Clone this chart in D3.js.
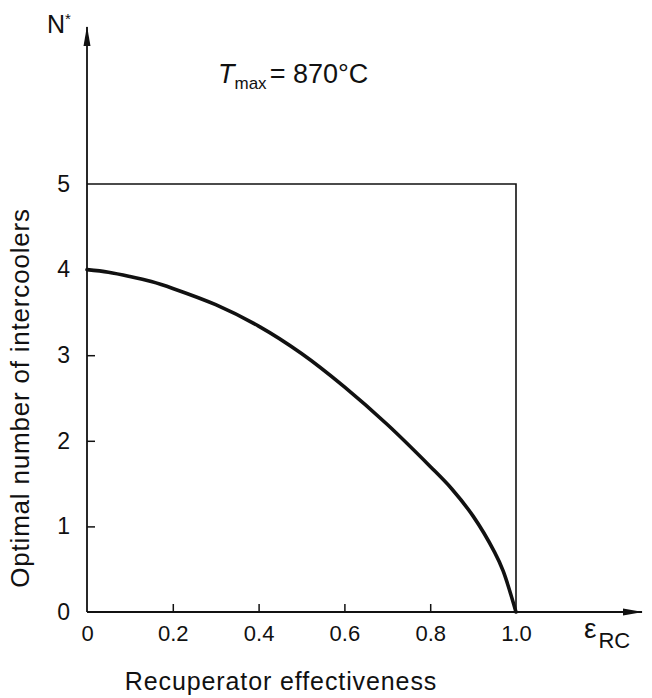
<!DOCTYPE html>
<html lang="en">
<head>
<meta charset="UTF-8"/>
<title>Optimal number of intercoolers</title>
<script src="https://d3js.org/d3.v7.min.js"></script>
<style>
  body { margin: 0; background: #fff; }
  text { font-family: "Liberation Sans", Arial, sans-serif; fill: #111; }
</style>
</head>
<body>
<script>
    // canvas size
    var w = 652;
    var h = 698;

    // curve: recuperator effectiveness vs optimal N*
    var effectiveness = [0, 0.05, 0.1, 0.15, 0.2, 0.3, 0.4, 0.5, 0.6, 0.7, 0.8, 0.85, 0.9, 0.95, 0.97, 1.0];
    var intercoolers  = [4.0, 3.97, 3.92, 3.86, 3.78, 3.59, 3.34, 3.02, 2.63, 2.19, 1.70, 1.44, 1.12, 0.70, 0.48, 0];

    var xTicks = [0, 0.2, 0.4, 0.6, 0.8, 1.0];
    var xTickLabels = ["0", "0.2", "0.4", "0.6", "0.8", "1.0"];
    var yTicks = [0, 1, 2, 3, 4, 5];

    var data = effectiveness.map(function(e, i) { return [e, intercoolers[i]]; });

    var xScale = d3.scaleLinear().domain([0, 1]).range([87, 516]);
    var yScale = d3.scaleLinear().domain([0, 5]).range([612, 184]);

    var svg = d3.select("body").append("svg")
        .attr("width", w)
        .attr("height", h);

    // x axis (ticks point inwards)
    var xAxis = d3.axisBottom(xScale)
        .tickValues(xTicks)
        .tickFormat(function(d, i) { return xTickLabels[i]; })
        .tickSizeInner(-8)
        .tickSizeOuter(0)
        .tickPadding(13);

    var gx = svg.append("g")
        .attr("transform", "translate(0," + yScale(0) + ")")
        .call(xAxis);
    gx.select(".domain").remove();
    gx.selectAll(".tick line").attr("stroke", "#111").attr("stroke-width", 1.5);
    gx.selectAll(".tick text").attr("font-size", "22px").style("font-family", "Liberation Sans, Arial, sans-serif").attr("fill", "#111");
    gx.selectAll(".tick").filter(function(d) { return d === 0 || d === 1; }).select("line").remove();

    // y axis
    var yAxis = d3.axisLeft(yScale)
        .tickValues(yTicks)
        .tickFormat(d3.format("d"))
        .tickSizeInner(-8)
        .tickSizeOuter(0)
        .tickPadding(17);

    var gy = svg.append("g")
        .attr("transform", "translate(" + xScale(0) + ",0)")
        .call(yAxis);
    gy.select(".domain").remove();
    gy.selectAll(".tick line").attr("stroke", "#111").attr("stroke-width", 1.5);
    gy.selectAll(".tick text").attr("font-size", "23px").style("font-family", "Liberation Sans, Arial, sans-serif").attr("fill", "#111");
    gy.selectAll(".tick").filter(function(d) { return d === 0 || d === 5; }).select("line").remove();

    // arrowheads
    var defs = svg.append("defs");
    defs.append("marker")
        .attr("id", "arrow")
        .attr("viewBox", "0 0 20 8")
        .attr("refX", 19).attr("refY", 4)
        .attr("markerWidth", 20).attr("markerHeight", 8)
        .attr("markerUnits", "userSpaceOnUse")
        .attr("orient", "auto")
        .append("path")
        .attr("d", "M0,0.5 L20,4 L0,7.5 Z")
        .attr("fill", "#111");

    // x axis line with arrow
    svg.append("line")
        .attr("x1", xScale(0)).attr("y1", yScale(0))
        .attr("x2", 642).attr("y2", yScale(0))
        .attr("stroke", "#111").attr("stroke-width", 1.8)
        .attr("marker-end", "url(#arrow)");

    // y axis line with arrow
    svg.append("line")
        .attr("x1", xScale(0)).attr("y1", yScale(0))
        .attr("x2", xScale(0)).attr("y2", 27)
        .attr("stroke", "#111").attr("stroke-width", 1.8)
        .attr("marker-end", "url(#arrow)");

    // box at N* = 5 and eps = 1.0
    svg.append("path")
        .attr("d", "M" + xScale(0) + "," + yScale(5) +
                   " L" + xScale(1) + "," + yScale(5) +
                   " L" + xScale(1) + "," + yScale(0))
        .attr("fill", "none")
        .attr("stroke", "#111")
        .attr("stroke-width", 1.6);

    // the curve
    var line = d3.line()
        .x(function(d) { return xScale(d[0]); })
        .y(function(d) { return yScale(d[1]); })
        .curve(d3.curveCatmullRom.alpha(0.5));

    svg.append("path")
        .datum(data)
        .attr("d", line)
        .attr("fill", "none")
        .attr("stroke", "#111")
        .attr("stroke-width", 3.6)
        .attr("stroke-linecap", "round");

    // N* label
    var nLab = svg.append("text")
        .attr("x", 47).attr("y", 33)
        .attr("font-size", "25px");
    nLab.append("tspan").text("N");
    nLab.append("tspan").attr("font-size", "15px").attr("dy", -9).text("*");

    // eps_RC label
    var eLab = svg.append("text")
        .attr("x", 584).attr("y", 638)
        .attr("font-size", "28px");
    eLab.append("tspan").text("ε");
    eLab.append("tspan").attr("font-size", "22px").attr("dy", 10).attr("dx", 2).text("RC");

    // Tmax annotation
    var tLab = svg.append("text")
        .attr("x", 218).attr("y", 83)
        .attr("font-size", "27px");
    tLab.append("tspan").attr("font-style", "italic").text("T");
    tLab.append("tspan").attr("font-size", "17px").attr("dy", 6).text("max");
    tLab.append("tspan").attr("dy", -6).attr("dx", 3).text("= 870°C");

    // axis titles
    svg.append("text")
        .attr("x", 281).attr("y", 690)
        .attr("text-anchor", "middle")
        .attr("font-size", "25px")
        .attr("letter-spacing", "0.9px")
        .text("Recuperator effectiveness");

    svg.append("text")
        .attr("transform", "rotate(-90)")
        .attr("x", -398).attr("y", 29)
        .attr("text-anchor", "middle")
        .attr("font-size", "26px")
        .attr("letter-spacing", "0.8px")
        .text("Optimal number of intercoolers");
</script>
</body>
</html>
